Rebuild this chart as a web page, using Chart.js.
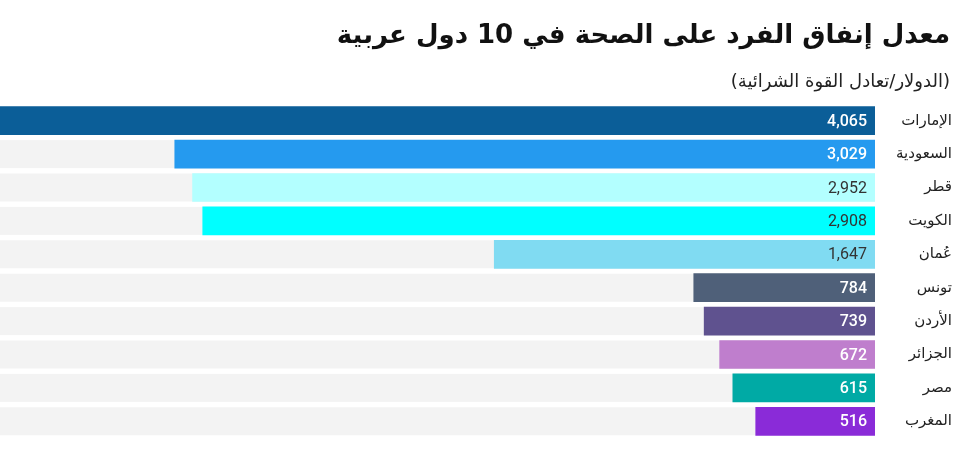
<!DOCTYPE html>
<html lang="ar">
<head>
<meta charset="utf-8">
<script src="https://cdn.jsdelivr.net/npm/chart.js@4/dist/chart.umd.min.js"></script>
<style>
  html, body { margin: 0; padding: 0; background: #ffffff; }
  #wrap { position: relative; width: 957px; height: 462px; overflow: hidden; }
  #chart { position: absolute; left: 0; top: 0; }
  .title { position: absolute; right: 7px; top: 18px; direction: rtl; font-family: "DejaVu Sans", sans-serif; font-weight: bold; font-size: 26px; line-height: 32px; color: #111; white-space: nowrap; }
  .sub { position: absolute; right: 7px; top: 70px; direction: rtl; font-family: "DejaVu Sans", sans-serif; font-size: 18px; line-height: 22px; color: #222; white-space: nowrap; }
</style>
</head>
<body>
<div id="wrap">
  <canvas id="chart" width="957" height="462"></canvas>
  <div class="title">معدل إنفاق الفرد على الصحة في 10 دول عربية</div>
  <div class="sub">(الدولار/تعادل القوة الشرائية)</div>
</div>
<script>
const countries = ["الإمارات", "السعودية", "قطر", "الكويت", "عُمان", "تونس", "الأردن", "الجزائر", "مصر", "المغرب"];
const spending = [4065, 3029, 2952, 2908, 1647, 784, 739, 672, 615, 516];
const barColors = ["#0b5e98", "#259aef", "#b3ffff", "#00ffff", "#80dbf2", "#4f6079", "#5f528f", "#bf7ecd", "#00aaa5", "#8a2bd8"];
const valueTextColors = ["#ffffff", "#ffffff", "#333333", "#333333", "#333333", "#ffffff", "#ffffff", "#ffffff", "#ffffff", "#ffffff"];
const axisMax = 3785;

const trackPlugin = {
  id: 'track',
  beforeDatasetsDraw(chart) {
    const ctx = chart.ctx, area = chart.chartArea;
    const meta = chart.getDatasetMeta(0);
    ctx.save();
    ctx.fillStyle = '#f3f3f3';
    meta.data.forEach(bar => {
      const h = bar.height;
      ctx.fillRect(area.left, bar.y - h / 2, area.right - area.left, h);
    });
    ctx.restore();
  }
};

const valuePlugin = {
  id: 'values',
  afterDatasetsDraw(chart) {
    const ctx = chart.ctx;
    const meta = chart.getDatasetMeta(0);
    ctx.save();
    ctx.textAlign = 'right';
    ctx.textBaseline = 'middle';
    meta.data.forEach((bar, i) => {
      const light = valueTextColors[i] === '#ffffff';
      ctx.font = (light ? '500' : '400') + ' 16px Roboto, sans-serif';
      ctx.fillStyle = valueTextColors[i];
      const right = Math.max(bar.x, bar.base);
      ctx.fillText(spending[i].toLocaleString('en-US'), right - 8, bar.y + 1);
    });
    ctx.restore();
  }
};

new Chart(document.getElementById('chart'), {
  type: 'bar',
  data: {
    labels: countries,
    datasets: [{
      data: spending,
      backgroundColor: barColors,
      borderWidth: 0,
      barThickness: 28
    }]
  },
  options: {
    indexAxis: 'y',
    responsive: false,
    animation: false,
    layout: { padding: { top: 104, bottom: 24, left: 0, right: 5 } },
    plugins: { legend: { display: false }, tooltip: { enabled: false }, title: { display: false } },
    scales: {
      x: { display: false, min: 0, max: axisMax, reverse: true },
      y: {
        position: 'right',
        grid: { display: false, drawTicks: false },
        border: { display: false },
        ticks: {
          padding: 10.5,
          crossAlign: 'far',
          color: '#222',
          font: { family: '"DejaVu Sans", sans-serif', size: 15 }
        }
      }
    }
  },
  plugins: [trackPlugin, valuePlugin]
});
</script>
</body>
</html>
